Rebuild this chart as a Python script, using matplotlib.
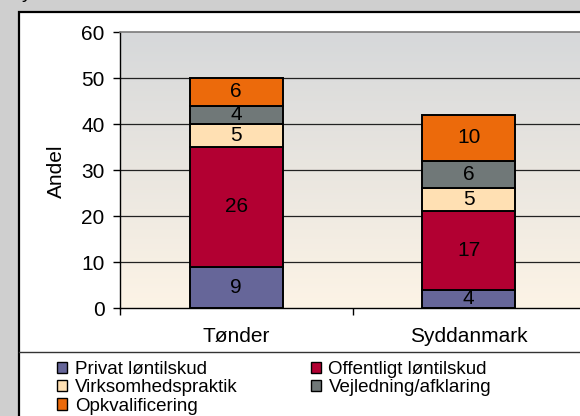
import matplotlib
matplotlib.use("Agg")
import matplotlib.pyplot as plt
import numpy as np
from matplotlib.patches import Rectangle, Patch
from matplotlib.lines import Line2D

categories = ["Tønder", "Syddanmark"]
series_names = ["Privat løntilskud", "Offentligt løntilskud", "Virksomhedspraktik",
                "Vejledning/afklaring", "Opkvalificering"]
privat = [9, 4]
offentligt = [26, 17]
virksomhed = [5, 5]
vejledning = [4, 6]
opkval = [6, 10]
series_values = [privat, offentligt, virksomhed, vejledning, opkval]
colors = ["#666699", "#B20032", "#FFE0B3", "#707878", "#EC6A0B"]
yticks = [0, 10, 20, 30, 40, 50, 60]

plt.rcParams['font.family'] = ['Liberation Sans', 'DejaVu Sans']

W, H = 580, 416
fig = plt.figure(figsize=(W/100, H/100), dpi=100)
fig.patch.set_facecolor("#CFCFCF")

# white chart area
fig.patches.append(Rectangle((18.5/W, -0.1), 1.2, 1 - 12.5/H + 0.1, transform=fig.transFigure,
                             facecolor="white", edgecolor="black", linewidth=1.6, zorder=-2))
# legend separator
fig.lines.append(Line2D([18.5/W, 1.0], [1 - 352/H, 1 - 352/H], transform=fig.transFigure,
                        color="#333333", linewidth=1.0, zorder=-1))
# cropped title descender
fig.text(22/W, 1 + 1.5/H, "y", fontsize=14, va="baseline", ha="left", color="black")

ax = fig.add_axes([120/W, 1 - 308/H, 465/W, 276/H])
ax.set_zorder(2)
ax.set_xlim(-0.5, 1.5)
ax.set_ylim(0, 60)

# gradient background
top = np.array([214, 216, 218]) / 255
bot = np.array([253, 244, 230]) / 255
t = np.linspace(0, 1, 256)[:, None]
grad = (top[None, :] * (1 - t) + bot[None, :] * t)[:, None, :]
ax.imshow(grad, extent=[-0.5, 1.5, 0, 60], aspect="auto", origin="upper", zorder=0)

for yv in yticks[1:-1]:
    ax.axhline(yv, color="#222222", linewidth=0.9, zorder=1)

x = np.arange(len(categories))
bottom = np.zeros(len(categories))
for name, vals, c in zip(series_names, series_values, colors):
    bars = ax.bar(x, vals, width=0.4, bottom=bottom, color=c, edgecolor="black",
                  linewidth=1.4, label=name, zorder=3)
    ax.bar_label(bars, labels=[str(v) for v in vals], label_type="center",
                 fontsize=15, color="black", zorder=4)
    bottom += np.array(vals)

ax.set_yticks(yticks)
ax.set_yticklabels([str(v) for v in yticks], fontsize=15)
ax.tick_params(axis="y", direction="out", length=5, width=1, pad=6, color="black")
ax.set_xticks(x)
ax.set_xticklabels(categories, fontsize=15)
ax.set_xticks([-0.5, 0.5, 1.5], minor=True)
ax.tick_params(axis="x", which="major", length=0, pad=14)
ax.tick_params(axis="x", which="minor", direction="out", length=5, width=1, color="black")

ax.spines["left"].set_color("black")
ax.spines["left"].set_linewidth(1.0)
ax.spines["bottom"].set_color("black")
ax.spines["bottom"].set_linewidth(1.0)
ax.spines["top"].set_color("#7a7a7a")
ax.spines["top"].set_linewidth(1.2)
ax.spines["right"].set_visible(False)

fig.text(56/W, 1 - 171/H, "Andel", rotation=90, fontsize=15, ha="center", va="center")

handles = [Patch(facecolor=c, edgecolor="black", linewidth=1.0) for c in colors]
order = [0, 2, 4, 1, 3]
leg = fig.legend([handles[i] for i in order], [series_names[i] for i in order],
                 ncol=2, loc="upper left", bbox_to_anchor=(57/W, 1 - 361/H),
                 frameon=False, fontsize=13.5, handlelength=0.55, handleheight=0.55,
                 handletextpad=0.4, labelspacing=0.07, columnspacing=3.9,
                 borderpad=0, borderaxespad=0)

fig.savefig("out.png", dpi=100, facecolor=fig.get_facecolor())
